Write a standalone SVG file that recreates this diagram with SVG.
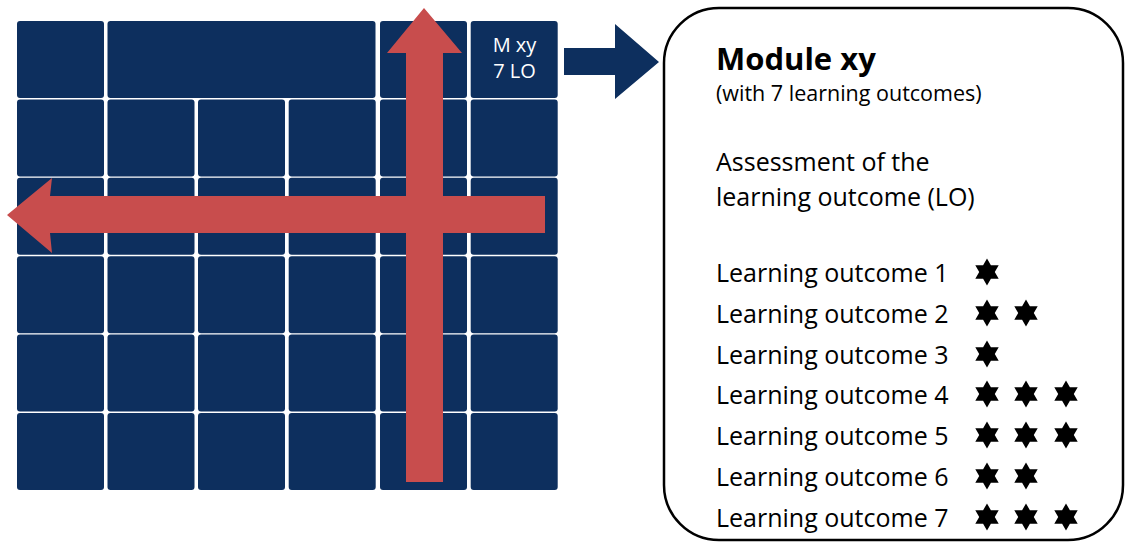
<svg xmlns="http://www.w3.org/2000/svg" xmlns:xlink="http://www.w3.org/1999/xlink" width="1127" height="545" viewBox="0 0 1127 545">
<style>
.cell{fill:#0d2f5e;}
.red{fill:#c84d4d;}
.blue{fill:#0d2f5e;}
.t{font-family:"Open Sans","Liberation Sans",sans-serif;fill:#000;}
.w{font-family:"Open Sans","Liberation Sans",sans-serif;fill:#fff;font-size:20px;text-anchor:middle;}
</style>
<defs>
<path id="star" d="M0,-13.5 L3.9,-6.75 L11.7,-6.75 L7.8,0 L11.7,6.75 L3.9,6.75 L0,13.5 L-3.9,6.75 L-11.7,6.75 L-7.8,0 L-11.7,-6.75 L-3.9,-6.75 Z" fill="#000"/>
</defs>
<rect width="1127" height="545" fill="#fff"/>
<g id="grid">
<rect class="cell" x="17" y="21" width="87" height="77" rx="3"/>
<rect class="cell" x="107.5" y="21" width="268" height="77" rx="3"/>
<rect class="cell" x="380" y="21" width="87" height="77" rx="3"/>
<g id="module-xy">
<rect class="cell" x="470.7" y="21" width="87" height="77" rx="3"/>
<text class="w" x="514.5" y="52">M xy</text>
<text class="w" x="514.5" y="78">7 LO</text>
</g>
<rect class="cell" x="17" y="99.4" width="87" height="77" rx="3"/>
<rect class="cell" x="107.5" y="99.4" width="87" height="77" rx="3"/>
<rect class="cell" x="198" y="99.4" width="87" height="77" rx="3"/>
<rect class="cell" x="288.7" y="99.4" width="87" height="77" rx="3"/>
<rect class="cell" x="380" y="99.4" width="87" height="77" rx="3"/>
<rect class="cell" x="470.7" y="99.4" width="87" height="77" rx="3"/>
<rect class="cell" x="17" y="177.8" width="87" height="77" rx="3"/>
<rect class="cell" x="107.5" y="177.8" width="87" height="77" rx="3"/>
<rect class="cell" x="198" y="177.8" width="87" height="77" rx="3"/>
<rect class="cell" x="288.7" y="177.8" width="87" height="77" rx="3"/>
<rect class="cell" x="380" y="177.8" width="87" height="77" rx="3"/>
<rect class="cell" x="470.7" y="177.8" width="87" height="77" rx="3"/>
<rect class="cell" x="17" y="256.2" width="87" height="77" rx="3"/>
<rect class="cell" x="107.5" y="256.2" width="87" height="77" rx="3"/>
<rect class="cell" x="198" y="256.2" width="87" height="77" rx="3"/>
<rect class="cell" x="288.7" y="256.2" width="87" height="77" rx="3"/>
<rect class="cell" x="380" y="256.2" width="87" height="77" rx="3"/>
<rect class="cell" x="470.7" y="256.2" width="87" height="77" rx="3"/>
<rect class="cell" x="17" y="334.6" width="87" height="77" rx="3"/>
<rect class="cell" x="107.5" y="334.6" width="87" height="77" rx="3"/>
<rect class="cell" x="198" y="334.6" width="87" height="77" rx="3"/>
<rect class="cell" x="288.7" y="334.6" width="87" height="77" rx="3"/>
<rect class="cell" x="380" y="334.6" width="87" height="77" rx="3"/>
<rect class="cell" x="470.7" y="334.6" width="87" height="77" rx="3"/>
<rect class="cell" x="17" y="413" width="87" height="77" rx="3"/>
<rect class="cell" x="107.5" y="413" width="87" height="77" rx="3"/>
<rect class="cell" x="198" y="413" width="87" height="77" rx="3"/>
<rect class="cell" x="288.7" y="413" width="87" height="77" rx="3"/>
<rect class="cell" x="380" y="413" width="87" height="77" rx="3"/>
<rect class="cell" x="470.7" y="413" width="87" height="77" rx="3"/>
</g>
<g id="connectors">
<polygon class="red" points="545,196 50,196 52,178 7,215 52,253 50,233 545,233"/>
<polygon class="red" points="406,482 406,53 387,53 424,8 462,53 443,53 443,482"/>
<polygon class="blue" points="564,48 615,48 615,24 659,62 615,99 615,75 564,75"/>
</g>
<g id="module-box">
<rect x="664" y="8" width="459" height="532" rx="55" ry="55" fill="#fff" stroke="#000" stroke-width="2.5"/>
<text class="t" x="716" y="70" font-size="31" font-weight="bold">Module xy</text>
<text class="t" x="716" y="101" font-size="21.5">(with 7 learning outcomes)</text>
<text class="t" x="716" y="171" font-size="25">Assessment of the</text>
<text class="t" x="716" y="206" font-size="25">learning outcome (LO)</text>
<text class="t" x="716" y="282" font-size="25">Learning outcome 1</text>
<text class="t" x="716" y="323" font-size="25">Learning outcome 2</text>
<text class="t" x="716" y="364" font-size="25">Learning outcome 3</text>
<text class="t" x="716" y="404" font-size="25">Learning outcome 4</text>
<text class="t" x="716" y="445" font-size="25">Learning outcome 5</text>
<text class="t" x="716" y="486" font-size="25">Learning outcome 6</text>
<text class="t" x="716" y="527" font-size="25">Learning outcome 7</text>
<use href="#star" x="987" y="272"/>
<use href="#star" x="987" y="313"/>
<use href="#star" x="1026" y="313"/>
<use href="#star" x="987" y="354"/>
<use href="#star" x="987" y="394"/>
<use href="#star" x="1026" y="394"/>
<use href="#star" x="1066" y="394"/>
<use href="#star" x="987" y="435"/>
<use href="#star" x="1026" y="435"/>
<use href="#star" x="1066" y="435"/>
<use href="#star" x="987" y="476"/>
<use href="#star" x="1026" y="476"/>
<use href="#star" x="987" y="517"/>
<use href="#star" x="1026" y="517"/>
<use href="#star" x="1066" y="517"/>
</g>
</svg>
